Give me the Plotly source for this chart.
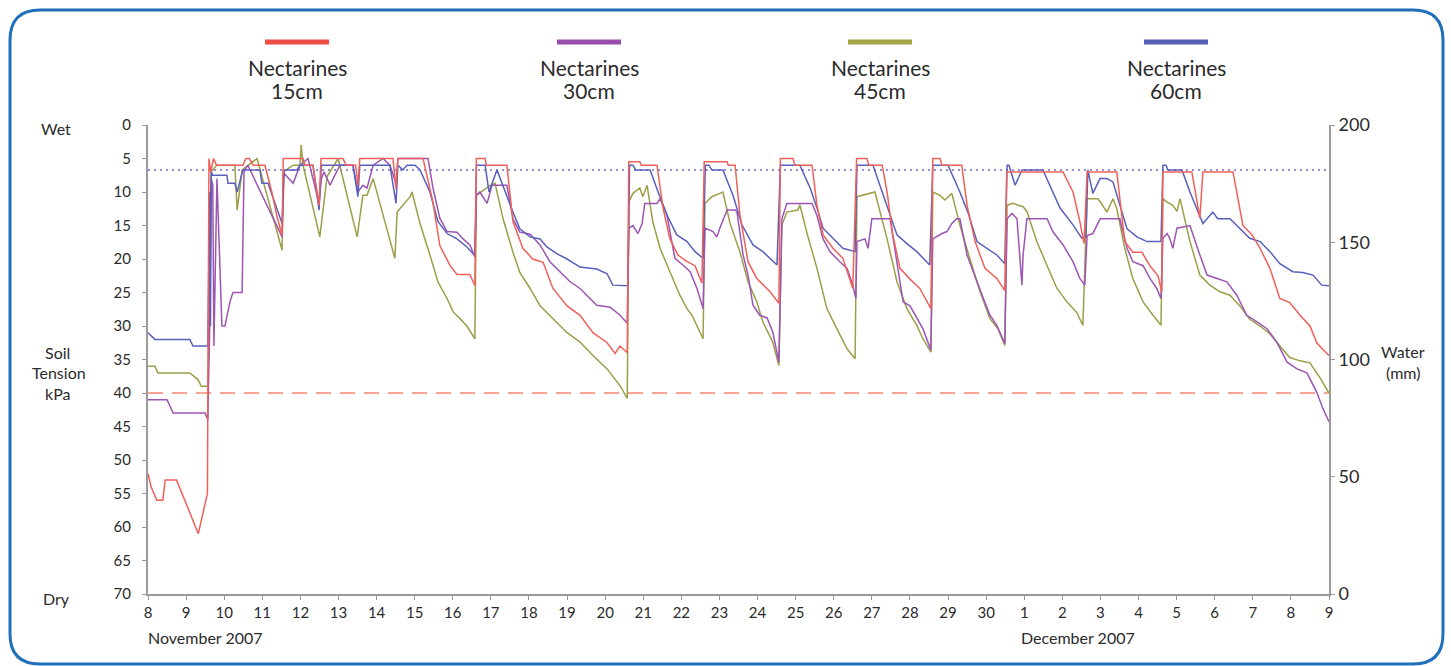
import plotly.graph_objects as go

# ---------------- data (x = days since 8 November 2007, y = soil tension kPa) ----------------
day_ticks = list(range(0, 32))
day_labels = [str(d) for d in range(8, 31)] + [str(d) for d in range(1, 10)]

tension_ticks = list(range(0, 75, 5))
water_ticks = [0, 50, 100, 150, 200]

refill_point_kpa = 40      # dashed line
full_point_kpa = 6.7       # dotted line

series_names = ["Nectarines 15cm", "Nectarines 30cm", "Nectarines 45cm", "Nectarines 60cm"]

red_15 = [(0.00,52),(0.08,54),(0.23,56),(0.39,56),(0.45,53),(0.75,53),(1.00,56.5),(1.15,58.5),(1.32,61),
          (1.56,55),(1.60,5),(1.65,7),(1.72,5),(1.80,6),(2.49,6),(2.57,5),(2.66,5),(2.76,6),(3.07,6),(3.25,10),
          (3.40,14),(3.52,16.5),(3.55,5),(4.07,5),(4.12,6),(4.33,6),(4.49,12),(4.54,5),(5.12,5),(5.20,6),(5.45,6),
          (5.51,9),(5.56,5),(6.43,5),(6.51,9.5),(6.56,5),(7.22,5),(7.48,11.5),(7.66,18),(7.93,21),(8.11,22.3),
          (8.45,22.3),(8.58,24),(8.62,5),(8.85,5),(8.88,6),(9.42,6),(9.58,14.4),(9.84,18.4),(10.10,20),(10.37,20.5),
          (10.63,24.4),(11.00,27),(11.34,28.4),(11.68,31),(12.05,32.5),(12.26,34.1),(12.39,33),(12.58,34),
          (12.62,5.5),(12.91,5.5),(12.95,6),(13.36,6),(13.52,12.4),(13.70,17),(13.91,19.4),(14.15,20.4),(14.36,21),
          (14.54,23.6),(14.60,5.5),(15.20,5.5),(15.23,6),(15.41,6),(15.54,13.5),(15.75,20.4),(15.98,22.9),
          (16.33,24.9),(16.56,26.6),(16.60,5),(16.93,5),(16.98,6),(17.43,6),(17.56,12),(17.72,16.4),(17.98,18.4),
          (18.24,19.9),(18.50,24.4),(18.60,5),(18.87,5),(18.92,6),(19.27,6),(19.40,10),(19.55,16.4),(19.74,21.4),
          (20.00,23),(20.26,24.4),(20.55,27.4),(20.60,5),(20.79,5),(20.84,6),(21.36,6),(21.50,12),(21.71,17.4),
          (21.97,21.4),(22.28,22.9),(22.49,24.7),(22.54,7),(24.02,7),(24.28,10),(24.46,14.4),(24.57,17.7),
          (24.65,7),(25.43,7),(25.64,17.4),(25.85,19),(26.09,19),(26.30,21),(26.51,22.5),(26.61,24.9),(26.64,7),
          (27.40,7),(27.61,13.9),(27.69,7),(28.48,7),(28.74,15),(28.98,16.4),(29.19,18.4),(29.45,21.4),
          (29.71,25.9),(29.97,26.5),(30.24,28.4),(30.50,30),(30.68,32.5),(30.84,33.5),(31.00,34.4)]

purple_30 = [(0.00,41),(0.50,41),(0.66,43),(1.50,43),(1.57,44),(1.62,30),(1.66,8),(1.70,9),(1.73,33),(1.81,8),
             (1.94,30),(2.02,30),(2.15,26.4),(2.23,25),(2.47,25),(2.52,7),(2.62,6),(3.52,16.7),(3.57,7.2),
             (3.81,8.7),(3.99,6),(4.20,5),(4.49,11.7),(4.55,8),(4.62,7),(4.78,9),(4.86,8),(5.04,6),(5.38,6),
             (5.51,10),(5.64,9),(5.75,9.4),(5.91,6),(6.17,5),(6.35,6),(6.51,8.7),(6.56,5),(7.35,5),(7.48,9.4),
             (7.66,13.9),(7.85,15.9),(8.11,16),(8.27,17),(8.45,17.9),(8.58,19.7),(8.62,10.5),(8.71,10),(8.90,11.7),
             (9.03,9),(9.42,9),(9.58,14),(9.76,16),(10.03,16.3),(10.29,17.9),(10.55,20.4),(10.81,21.9),(11.08,23.4),
             (11.34,24.4),(11.52,25.4),(11.78,26.9),(12.13,27.2),(12.39,28.4),(12.58,29.6),(12.62,15.4),(12.73,15),
             (12.86,16.2),(12.97,14.7),(13.04,11.7),(13.36,11.7),(13.44,11),(13.62,13.4),(13.83,19.9),(14.04,20.9),
             (14.23,21.9),(14.41,24.4),(14.57,27.4),(14.62,15.4),(14.83,15.9),(14.93,16.7),(15.01,15.4),
             (15.20,12.7),(15.41,12.7),(15.46,13),(15.62,19.4),(15.75,22.4),(15.88,26.9),(16.06,28.4),(16.25,28.8),
             (16.40,30.9),(16.56,35.4),(16.64,14),(16.72,12.4),(16.77,11.7),(17.43,11.7),(17.56,13.5),(17.72,17),
             (17.90,18.9),(18.16,20.4),(18.35,21.4),(18.50,23.9),(18.58,25.9),(18.61,17.4),(18.82,17),(18.90,18.4),
             (19.00,14),(19.48,14),(19.66,20.4),(19.82,26.4),(20.00,27),(20.18,28.9),(20.34,30.4),(20.55,33.6),
             (20.60,17),(20.84,16.2),(20.97,15.9),(21.10,14.7),(21.23,14),(21.31,14),(21.50,19.4),(21.76,23.4),
             (21.92,25.9),(22.10,28.4),(22.28,29.9),(22.49,32.6),(22.55,14),(22.68,13.2),(22.81,14),(22.89,19.4),
             (22.94,23.9),(22.97,19.4),(23.07,14),(23.60,14),(23.75,15.9),(24.02,17.9),(24.28,20.4),(24.46,22.9),
             (24.59,23.9),(24.65,16.5),(24.80,16.2),(24.99,14),(25.51,14),(25.70,18.4),(25.85,20.4),(26.12,21),
             (26.30,22.9),(26.48,24.4),(26.59,25.9),(26.64,16.9),(26.75,16.2),(26.82,16.9),(26.90,18.4),
             (27.01,15.4),(27.35,15),(27.61,19.4),(27.80,22.4),(28.06,22.9),(28.32,23.4),(28.58,25.4),(28.84,28.4),
             (29.11,29.4),(29.37,30.4),(29.63,32.4),(29.90,35.4),(30.16,36.4),(30.42,37),(30.68,39.9),(30.84,42.3),
             (31.00,44.3)]

olive_45 = [(0.00,36),(0.18,36),(0.26,37),(1.10,37),(1.31,38),(1.40,39),(1.57,39),(1.62,25),(1.66,7),(1.80,6),
            (2.28,6),(2.34,12.7),(2.47,6.7),(2.86,5),(3.52,18.7),(3.55,7),(3.81,6),(3.99,6),(4.02,3),(4.07,6),
            (4.51,16.7),(4.70,7.7),(4.99,5),(5.49,16.7),(5.64,10.5),(5.75,10.5),(5.91,8),(6.48,19.9),(6.54,13),
            (6.69,12),(6.88,10.7),(6.93,10),(7.14,14.7),(7.40,19.4),(7.61,23.4),(7.85,25.9),(8.01,27.9),(8.19,28.9),
            (8.37,30),(8.58,31.9),(8.62,10.5),(8.98,9),(9.11,8.7),(9.32,14),(9.58,19),(9.76,22),(10.03,24.4),
            (10.29,27),(10.63,28.9),(11.00,31),(11.34,32.4),(11.68,34.4),(12.05,36.4),(12.39,38.9),(12.58,40.8),
            (12.62,11.5),(12.73,10.2),(12.91,9.4),(12.99,10.7),(13.10,9),(13.25,14.4),(13.44,18.4),(13.70,21.9),
            (13.96,25.4),(14.15,27.4),(14.28,28.4),(14.41,30),(14.57,31.9),(14.62,11.7),(14.80,10.7),(15.01,10.2),
            (15.09,10),(15.28,14.7),(15.54,19),(15.75,23.4),(15.98,26.4),(16.14,29.4),(16.40,32.4),(16.56,35.9),
            (16.64,14.9),(16.77,13),(17.06,12.7),(17.11,11.9),(17.30,16.2),(17.56,21.4),(17.82,27.4),(18.08,30.4),
            (18.35,33.4),(18.56,34.9),(18.61,10.7),(19.08,10),(19.40,17),(19.66,23.4),(19.92,27.4),(20.18,29.9),
            (20.34,31.9),(20.55,33.9),(20.60,10),(20.79,10.5),(20.92,11.2),(21.10,10.2),(21.31,14.9),(21.57,19.9),
            (21.84,24.9),(22.10,28.9),(22.31,30.4),(22.49,32.9),(22.55,12),(22.70,11.7),(22.97,12.2),(23.07,12.9),
            (23.33,17.4),(23.60,21),(23.86,24.4),(24.12,26.4),(24.38,28),(24.54,29.9),(24.65,11),(24.93,11),
            (25.00,11.5),(25.17,13),(25.33,11),(25.43,12.5),(25.64,18.4),(25.85,22.9),(26.12,26.4),(26.38,28.4),
            (26.59,29.9),(26.64,11),(26.75,11.5),(26.90,12),(27.01,12.9),(27.09,11),(27.35,17.4),(27.61,22.4),
            (27.87,23.9),(28.14,24.9),(28.40,25.4),(28.66,27),(28.92,29),(29.19,30),(29.45,31.2),(29.71,33),
            (29.97,34.7),(30.24,35.2),(30.50,35.5),(30.76,37.7),(31.00,40)]

blue_60 = [(0.00,31),(0.18,32),(1.10,32),(1.18,33),(1.57,33),(1.60,23),(1.62,10),(1.64,30),(1.66,7),(1.70,7.5),
           (2.07,7.5),(2.10,8.7),(2.28,8.7),(2.34,10),(2.49,6.7),(2.94,6.7),(2.99,8.7),(3.15,8.7),(3.52,14.7),
           (3.57,6.7),(3.91,6.7),(3.99,6),(4.33,6),(4.49,12.7),(4.55,6),(5.38,6),(5.51,10.7),(5.56,6),(6.35,6),
           (6.51,11.7),(6.56,6),(6.69,6.7),(6.80,6),(7.01,6),(7.14,6.7),(7.40,10),(7.61,14.4),(7.85,16.2),(8.11,17),
           (8.37,18.2),(8.58,19.5),(8.62,6),(8.85,6),(8.95,10),(9.16,6.7),(9.58,13),(9.76,15.5),(10.03,16.7),
           (10.29,17),(10.47,18.2),(10.73,19.2),(11.00,20),(11.34,21.2),(11.78,21.5),(12.05,22.2),(12.20,23.9),
           (12.60,24),(12.64,6),(12.73,6),(12.80,6.7),(13.18,6.7),(13.39,10),(13.62,13.4),(13.88,16.4),(14.15,17.4),
           (14.36,18.9),(14.57,19.9),(14.63,6),(14.72,6),(14.80,6.7),(15.09,6.7),(15.35,10.4),(15.59,14.9),
           (15.88,17.9),(16.14,18.9),(16.51,20.9),(16.60,6),(17.11,6),(17.38,9.4),(17.56,12.4),(17.72,15.4),
           (17.98,16.9),(18.24,18.4),(18.56,18.9),(18.61,6),(19.03,6),(19.40,12),(19.66,16.4),(19.92,17.7),
           (20.18,18.9),(20.52,20.9),(20.60,6),(21.00,6),(21.31,10),(21.52,13),(21.76,17.4),(22.02,18.4),
           (22.28,19.4),(22.49,20.7),(22.55,6),(22.60,6),(22.76,9),(22.94,6.7),(23.49,6.7),(23.94,12.4),
           (24.28,14.9),(24.51,16.9),(24.62,16.7),(24.67,6.7),(24.80,10.2),(24.99,8),(25.17,8),(25.33,8.5),
           (25.70,15.5),(25.96,16.7),(26.22,17.4),(26.59,17.4),(26.64,6),(26.72,6),(26.77,6.7),(27.14,6.7),
           (27.35,10),(27.56,12.9),(27.69,14.7),(27.95,13),(28.08,14),(28.40,14),(28.66,15.4),(28.92,16.9),
           (29.19,17.4),(29.45,18.9),(29.71,20.7),(30.05,21.9),(30.31,22),(30.58,22.4),(30.81,23.9),(31.00,24)]

# ---------------- styling ----------------
W, H = 1451, 666
ML, MR, MT, MB = 148, 122, 125, 72
PW, PH = W - ML - MR, H - MT - MB
FONT = "Lato"
TXT = "#2b2b2b"
AX = "#9a9a9a"

line_cols = ["#f0605a", "#9d55b3", "#9c9e48", "#5860bb"]
legend_cols = ["#ef4c45", "#9b4dac", "#a4a549", "#5560b5"]


def fx(px):
    return (px - ML) / PW


def fy(py):
    return (H - MB - py) / PH


fig = go.Figure()

draw_order = [(2, olive_45), (1, purple_30), (3, blue_60), (0, red_15)]
for idx, data in draw_order:
    fig.add_trace(go.Scatter(
        x=[p[0] for p in data], y=[p[1] for p in data], mode="lines",
        name=series_names[idx], line=dict(color=line_cols[idx], width=1.5),
        showlegend=False, hoverinfo="x+y+name"))

# invisible trace to activate the right-hand water axis
fig.add_trace(go.Scatter(x=[0], y=[0], yaxis="y2", mode="markers",
                         marker=dict(opacity=0), showlegend=False, hoverinfo="skip"))

shapes = [
    dict(type="line", xref="x", yref="y", x0=0, x1=31, y0=refill_point_kpa, y1=refill_point_kpa,
         line=dict(color="#f7a396", width=2, dash="15px,9px"), layer="below"),
    dict(type="line", xref="x", yref="y", x0=0, x1=31, y0=full_point_kpa, y1=full_point_kpa,
         line=dict(color="#6b6fc6", width=1.5, dash="2px,4px"), layer="below"),
]

# rounded blue frame
x0, x1, y0, y1, r = 10, 1443, 10, 664, 30
pts = [("M", x0 + r, y0), ("L", x1 - r, y0), ("Q", x1, y0, x1, y0 + r), ("L", x1, y1 - r),
       ("Q", x1, y1, x1 - r, y1), ("L", x0 + r, y1), ("Q", x0, y1, x0, y1 - r), ("L", x0, y0 + r),
       ("Q", x0, y0, x0 + r, y0)]
path = ""
for p in pts:
    cmd = p[0]
    coords = p[1:]
    s = " ".join(f"{fx(coords[i]):.5f},{fy(coords[i+1]):.5f}" for i in range(0, len(coords), 2))
    path += f"{cmd} {s} "
path += "Z"
shapes.append(dict(type="path", xref="paper", yref="paper", path=path,
                   line=dict(color="#1f6fba", width=3)))

annotations = []
legend_centers = [297, 589, 880, 1176]
legend_depths = ["15cm", "30cm", "45cm", "60cm"]
for i, cx in enumerate(legend_centers):
    shapes.append(dict(type="line", xref="paper", yref="paper", x0=fx(cx - 32), x1=fx(cx + 32),
                       y0=fy(42), y1=fy(42), line=dict(color=legend_cols[i], width=5)))
    annotations.append(dict(x=fx(cx), y=fy(68), xref="paper", yref="paper", text="Nectarines",
                            showarrow=False, xanchor="center", yanchor="middle",
                            font=dict(family=FONT, size=21, color=TXT)))
    annotations.append(dict(x=fx(cx), y=fy(90), xref="paper", yref="paper", text=legend_depths[i],
                            showarrow=False, xanchor="center", yanchor="middle",
                            font=dict(family=FONT, size=21, color=TXT)))


def txt(text, px, py, size=16, anchor="center"):
    annotations.append(dict(x=fx(px), y=fy(py), xref="paper", yref="paper", text=text, showarrow=False,
                            xanchor=anchor, yanchor="middle", font=dict(family=FONT, size=size, color=TXT)))


txt("Wet", 56, 128)
txt("Soil", 57, 352)
txt("Tension", 59, 372)
txt("kPa", 57, 393)
txt("Dry", 56, 598)
txt("Water", 1403, 351)
txt("(mm)", 1403, 372)
txt("November 2007", 146, 637, anchor="left")
txt("December 2007", 1019, 637, anchor="left")

fig.update_layout(
    width=W, height=H, autosize=False,
    margin=dict(l=ML, r=MR, t=MT, b=MB),
    paper_bgcolor="white", plot_bgcolor="white",
    font=dict(family=FONT, color=TXT),
    shapes=shapes, annotations=annotations,
    xaxis=dict(range=[0, 31], tickmode="array", tickvals=day_ticks, ticktext=day_labels,
               showgrid=False, zeroline=False, showline=True, linecolor=AX, linewidth=2,
               ticks="outside", ticklen=4, tickcolor=AX, tickfont=dict(family=FONT, size=15, color=TXT)),
    yaxis=dict(range=[70, 0], tickmode="array", tickvals=tension_ticks,
               showgrid=False, zeroline=False, showline=True, linecolor=AX, linewidth=2,
               ticks="outside", ticklen=4, tickcolor=AX, ticklabelstandoff=8,
               tickfont=dict(family=FONT, size=15, color=TXT)),
    yaxis2=dict(range=[0, 200], tickmode="array", tickvals=water_ticks, overlaying="y", side="right",
                showgrid=False, zeroline=False, showline=True, linecolor=AX, linewidth=2,
                ticks="outside", ticklen=4, tickcolor=AX,
                tickfont=dict(family=FONT, size=18, color=TXT)),
)

fig.write_html("out.html", config={"displayModeBar": False},
               post_script="document.body.style.margin='0px';document.body.style.overflow='hidden';")
